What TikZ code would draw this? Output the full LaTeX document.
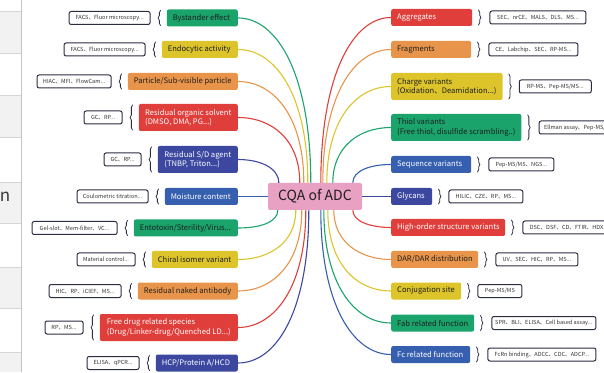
\documentclass[tikz,border=0pt]{standalone}
\usepackage{fontspec}
\setmainfont{Noto Sans CJK SC}
\usetikzlibrary{calc,decorations.pathreplacing}
\definecolor{cgreen}{HTML}{1AA36B}
\definecolor{cyellow}{HTML}{DCC42A}
\definecolor{corange}{HTML}{E8944A}
\definecolor{cred}{HTML}{E03E3A}
\definecolor{cnavy}{HTML}{3C48A0}
\definecolor{cblue}{HTML}{375FAF}
\definecolor{cpink}{HTML}{E8A0C3}
\definecolor{ink}{HTML}{1E1E1E}
\definecolor{tagline}{HTML}{2B2D42}
\definecolor{tagtext}{HTML}{333333}
\definecolor{panelgray}{HTML}{F2F2F2}
\definecolor{panelline}{HTML}{D6D6D6}
\definecolor{panelborder}{HTML}{C4C4C4}
\definecolor{uitext}{HTML}{3A3A3A}
\newcommand\fitl[2]{\makebox[#1pt][l]{#2}}
\begin{document}
\begin{tikzpicture}[x=1pt,y=1pt,
  cat/.style={rounded corners=2pt,minimum height=17pt,inner xsep=6pt,inner ysep=1pt,font=\fontsize{7.6}{9.2}\selectfont},
  two/.style={minimum height=27pt,align=left},
  wt/.style={text=white},
  bk/.style={text=ink},
  tag/.style={draw=tagline,line width=1pt,fill=white,rounded corners=2pt,minimum height=13pt,inner sep=1pt,font=\fontsize{5.6}{6.4}\selectfont,text=tagtext},
  link/.style={line width=1.1pt},
  lbrace/.style={draw=tagline,line width=0.8pt,decorate,decoration={brace,amplitude=2.5pt}},
]
\useasboundingbox (0,0) rectangle (604,372);
\clip (0,0) rectangle (604,372);

% left UI panel
\fill[panelgray] (0,319) rectangle (21,361);
\fill[panelgray] (0,235) rectangle (21,277);
\fill[panelgray] (0,149) rectangle (21,190);
\fill[panelgray] (0,64) rectangle (21,105);
\fill[panelgray] (0,0) rectangle (21,20);
\foreach \yy in {20,64,105,149,190,235,277,319,361} \draw[panelline,line width=0.8pt] (0,\yy) -- (21,\yy);
\draw[panelborder,line width=1pt] (21,0) -- (21,372);
\node[anchor=base east,inner sep=0,font=\fontsize{17}{20}\selectfont,text=uitext] (cut) at (10.5,170) {n};

% center
\node[fill=cpink,rounded corners=2pt,minimum width=94pt,minimum height=27pt,inner sep=0,font=\fontsize{14}{16}\selectfont,text=ink] (cqa) at (315,175.5) {CQA of ADC};

% left categories
\node[cat,fill=cgreen,bk,minimum width=71pt,anchor=east] (bys) at (238,354) {\fitl{59}{Bystander effect}};
\node[cat,fill=cyellow,bk,minimum width=76pt,anchor=east] (endo) at (238,322.5) {\fitl{64}{Endocytic activity}};
\node[cat,fill=corange,bk,minimum width=110pt,anchor=east] (part) at (238,290.5) {\fitl{98}{Particle/Sub-visible particle}};
\node[cat,two,fill=cred,wt,minimum width=99pt,anchor=east] (orgs) at (238,254.5) {Residual organic solvent\\(DMSO, DMA, PG...)};
\node[cat,two,fill=cnavy,wt,minimum width=80pt,anchor=east] (sd) at (238,212.5) {Residual S/D agent\\(TNBP, Triton...)};
\node[cat,fill=cblue,wt,minimum width=73pt,anchor=east] (moist) at (238,175.5) {\fitl{61}{Moisture content}};
\node[cat,fill=cgreen,bk,minimum width=104pt,anchor=east] (ento) at (238,144) {\fitl{92}{Entotoxin/Sterility/Virus...}};
\node[cat,fill=cyellow,bk,minimum width=86pt,anchor=east] (chir) at (238,112.5) {\fitl{74}{Chiral isomer variant}};
\node[cat,fill=corange,bk,minimum width=100pt,anchor=east] (naked) at (238,81) {\fitl{88}{Residual naked antibody}};
\node[cat,two,fill=cred,wt,minimum width=138pt,anchor=east] (free) at (238,44.5) {Free drug related species\\(Drug/Linker-drug/Quenched LD...)};
\node[cat,fill=cnavy,wt,minimum width=82pt,anchor=east] (hcp) at (238,9) {\fitl{70}{HCP/Protein A/HCD}};

% right categories
\node[cat,fill=cred,wt,minimum width=81pt,anchor=west] (agg) at (391,354.5) {\fitl{69}{Aggregates}};
\node[cat,fill=corange,bk,minimum width=80pt,anchor=west] (frag) at (391,322.5) {\fitl{68}{Fragments}};
\node[cat,two,fill=cyellow,bk,minimum width=111pt,anchor=west] (charge) at (391,285.5) {Charge variants\\(Oxidation、Deamidation...)};
\node[cat,two,fill=cgreen,bk,minimum width=129pt,anchor=west] (thiol) at (391,244.5) {Thiol variants\\(Free thiol, disulfide scrambling..)};
\node[cat,fill=cblue,wt,minimum width=80pt,anchor=west] (seq) at (391,207.5) {\fitl{68}{Sequence variants}};
\node[cat,fill=cnavy,wt,minimum width=41pt,anchor=west] (gly) at (391,175.5) {\fitl{29}{Glycans}};
\node[cat,fill=cred,wt,minimum width=114pt,anchor=west] (ho) at (391,144.5) {\fitl{102}{High-order structure variants}};
\node[cat,fill=corange,bk,minimum width=87pt,anchor=west] (dar) at (391,112.5) {\fitl{75}{DAR/DAR distribution}};
\node[cat,fill=cyellow,bk,minimum width=70pt,anchor=west] (conj) at (391,81) {\fitl{58}{Conjugation site}};
\node[cat,fill=cgreen,bk,minimum width=83pt,anchor=west] (fab) at (391,49) {\fitl{71}{Fab related function}};
\node[cat,fill=cblue,wt,minimum width=79pt,anchor=west] (fc) at (391,17.5) {\fitl{67}{Fc related function}};

% left method tags
\node[tag,minimum width=81pt,anchor=east] (bysT) at ([xshift=-16pt]bys.west) {FACS、Fluor microscopy...};
\node[tag,minimum width=81pt,anchor=east] (endoT) at ([xshift=-16pt]endo.west) {FACS、Fluor microscopy...};
\node[tag,minimum width=74pt,anchor=east] (partT) at ([xshift=-16pt]part.west) {HIAC、MFI、FlowCam...};
\node[tag,minimum width=38pt,anchor=east] (orgsT) at ([xshift=-16pt]orgs.west) {GC、RP...};
\node[tag,minimum width=37pt,anchor=east] (sdT) at ([xshift=-16pt]sd.west) {GC、RP...};
\node[tag,minimum width=71pt,anchor=east] (moistT) at ([xshift=-16pt]moist.west) {Coulometric titration...};
\node[tag,minimum width=85pt,anchor=east] (entoT) at ([xshift=-16pt]ento.west) {Gel-slot、Mem-filter、VC...};
\node[tag,minimum width=58pt,anchor=east] (chirT) at ([xshift=-16pt]chir.west) {Material control...};
\node[tag,minimum width=72pt,anchor=east] (nakedT) at ([xshift=-16pt]naked.west) {HIC、RP、iCIEF、MS...};
\node[tag,minimum width=38pt,anchor=east] (freeT) at ([xshift=-16pt]free.west) {RP、MS...};
\node[tag,minimum width=52pt,anchor=east] (hcpT) at ([xshift=-16pt]hcp.west) {ELISA、qPCR...};

% right method tags
\node[tag,minimum width=96pt,anchor=west] (aggT) at ([xshift=17pt]agg.east) {SEC、nrCE、MALS、DLS、MS...};
\node[tag,minimum width=89pt,anchor=west] (fragT) at ([xshift=17pt]frag.east) {CE、Labchip、SEC、RP-MS...};
\node[tag,minimum width=72pt,anchor=west] (chargeT) at ([xshift=16pt]charge.east) {RP-MS、Pep-MS/MS...};
\node[tag,minimum width=84pt,anchor=west] (thiolT) at ([xshift=17pt]thiol.east) {Ellman assay、Pep-MS/MS...};
\node[tag,minimum width=65pt,anchor=west] (seqT) at ([xshift=17pt]seq.east) {Pep-MS/MS、NGS...};
\node[tag,minimum width=74pt,anchor=west] (glyT) at ([xshift=16pt]gly.east) {HILIC、CZE、RP、MS...};
\node[tag,minimum width=92pt,anchor=west] (hoT) at ([xshift=17pt]ho.east) {DSC、DSF、CD、FTIR、HDX...};
\node[tag,minimum width=82pt,anchor=west] (darT) at ([xshift=17pt]dar.east) {UV、SEC、HIC、RP、MS...};
\node[tag,minimum width=44pt,anchor=west] (conjT) at ([xshift=16pt]conj.east) {Pep-MS/MS};
\node[tag,minimum width=104pt,anchor=west] (fabT) at ([xshift=17pt]fab.east) {SPR、BLI、ELISA、Cell based assay...};
\node[tag,minimum width=108pt,anchor=west] (fcT) at ([xshift=17pt]fc.east) {FcRn binding、ADCC、CDC、ADCP...};

% braces
\foreach \n in {bys,endo,part,orgs,sd,moist,ento,chir,naked,free,hcp}
  \draw[lbrace] ([xshift=-6pt,yshift=1pt]\n.south west) -- ([xshift=-6pt,yshift=-1pt]\n.north west);
\foreach \n in {agg,frag,charge,thiol,seq,gly,ho,dar,conj,fab,fc}
  \draw[lbrace] ([xshift=6pt,yshift=-1pt]\n.north east) -- ([xshift=6pt,yshift=1pt]\n.south east);

% connectors, left
\draw[link,cgreen] (bys.east) to[out=0,in=90,out distance=40pt,in distance=107pt] ($(cqa.north west)+(43,0)$);
\draw[link,cyellow] (endo.east) to[out=0,in=90,out distance=38pt,in distance=87pt] ($(cqa.north west)+(40,0)$);
\draw[link,corange] (part.east) to[out=0,in=90,out distance=36pt,in distance=66pt] ($(cqa.north west)+(36,0)$);
\draw[link,cred] (orgs.east) to[out=0,in=90,out distance=34pt,in distance=43pt] ($(cqa.north west)+(32,0)$);
\draw[link,cnavy] (sd.east) to[out=0,in=90,out distance=22pt,in distance=15pt] ($(cqa.north west)+(11,0)$);
\draw[link,cblue] (moist.east) -- (cqa.west);
\draw[link,cgreen] (ento.east) to[out=0,in=-90,out distance=22pt,in distance=12pt] ($(cqa.south west)+(10,0)$);
\draw[link,cyellow] (chir.east) to[out=0,in=-90,out distance=32pt,in distance=32pt] ($(cqa.south west)+(28,0)$);
\draw[link,corange] (naked.east) to[out=0,in=-90,out distance=35pt,in distance=53pt] ($(cqa.south west)+(34,0)$);
\draw[link,cred] (free.east) to[out=0,in=-90,out distance=37pt,in distance=76pt] ($(cqa.south west)+(38,0)$);
\draw[link,cnavy] (hcp.east) to[out=0,in=-90,out distance=39pt,in distance=100pt] ($(cqa.south west)+(41,0)$);

% connectors, right
\draw[link,cred] (agg.west) to[out=180,in=90,out distance=38pt,in distance=108pt] ($(cqa.north west)+(53,0)$);
\draw[link,corange] (frag.west) to[out=180,in=90,out distance=37pt,in distance=87pt] ($(cqa.north west)+(55,0)$);
\draw[link,cyellow] (charge.west) to[out=180,in=90,out distance=35pt,in distance=63pt] ($(cqa.north west)+(59,0)$);
\draw[link,cgreen] (thiol.west) to[out=180,in=90,out distance=32pt,in distance=36pt] ($(cqa.north west)+(65,0)$);
\draw[link,cblue] (seq.west) to[out=180,in=90,out distance=21pt,in distance=12pt] ($(cqa.north west)+(85,0)$);
\draw[link,cnavy] (gly.west) -- (cqa.east);
\draw[link,cred] (ho.west) to[out=180,in=-90,out distance=21pt,in distance=11pt] ($(cqa.south west)+(85,0)$);
\draw[link,corange] (dar.west) to[out=180,in=-90,out distance=31pt,in distance=32pt] ($(cqa.south west)+(66,0)$);
\draw[link,cyellow] (conj.west) to[out=180,in=-90,out distance=35pt,in distance=53pt] ($(cqa.south west)+(60,0)$);
\draw[link,cgreen] (fab.west) to[out=180,in=-90,out distance=37pt,in distance=73pt] ($(cqa.south west)+(56,0)$);
\draw[link,cblue] (fc.west) to[out=180,in=-90,out distance=38pt,in distance=94pt] ($(cqa.south west)+(53,0)$);
\end{tikzpicture}
\end{document}
